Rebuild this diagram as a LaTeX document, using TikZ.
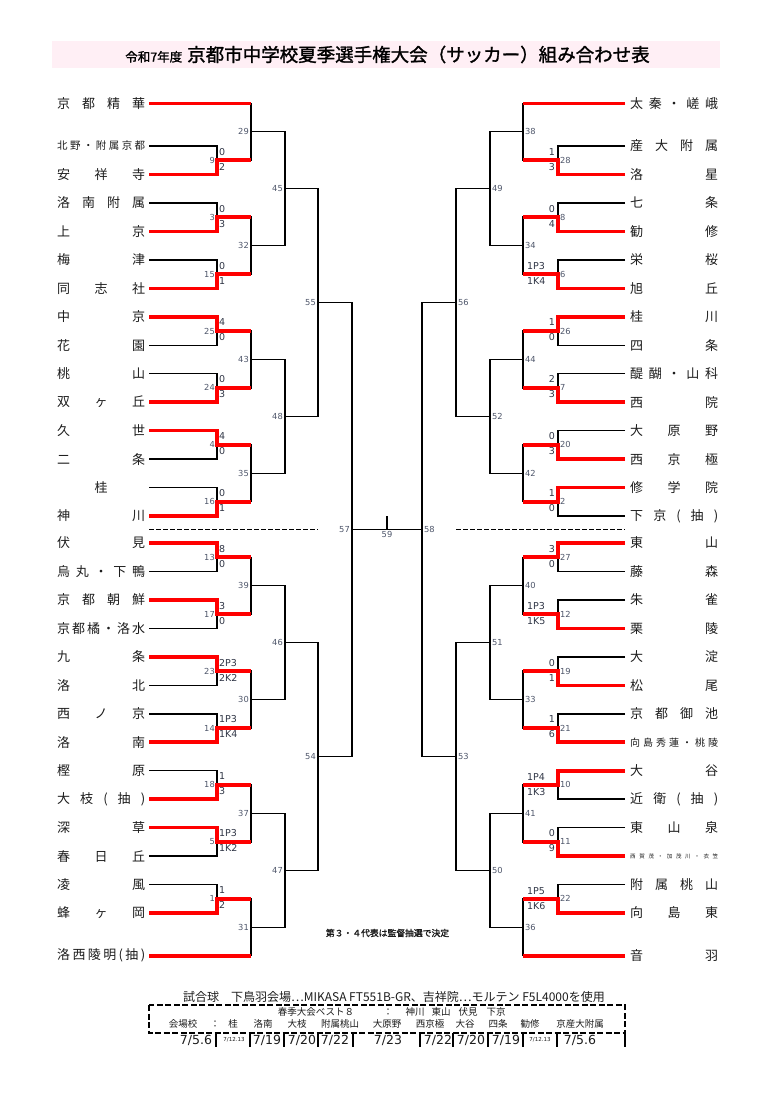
\documentclass[tikz,border=0pt]{standalone}
\usepackage{fontspec}
\setmainfont{Noto Sans CJK JP}
\newfontfamily\numfont{DejaVu Sans}
\newfontfamily\boldcjk{Noto Sans CJK JP}[FakeBold=1.5]
\usetikzlibrary{calc}
\definecolor{titlepink}{RGB}{255,239,245}
\definecolor{scoregray}{RGB}{48,54,70}
\definecolor{nogray}{RGB}{78,86,106}
\definecolor{namegray}{RGB}{28,28,28}
\tikzset{
  bline/.style={line width=1.4pt, black},
  rline/.style={line width=3.6pt, red},
  team/.style={anchor=west, inner sep=0pt, font=\fontsize{13}{13}\selectfont, text=namegray},
  score/.style={inner sep=0pt, font=\numfont\fontsize{9.5}{10}\selectfont, text=scoregray},
  mno/.style={inner sep=0pt, font=\numfont\fontsize{8.3}{9}\selectfont, text=nogray},
  sepline/.style={line width=1.8pt, dash pattern=on 5pt off 2pt},
  boxdash/.style={line width=1.5pt, dash pattern=on 6pt off 2.5pt},
  foot/.style={inner sep=0pt, font=\fontsize{12}{12}\selectfont, text=namegray},
  venue/.style={inner sep=0pt, font=\fontsize{9.5}{10}\selectfont, text=namegray},
  datebig/.style={inner sep=0pt, font=\numfont\fontsize{12.5}{13}\selectfont, text=namegray},
  datesmall/.style={inner sep=0pt, font=\numfont\fontsize{5.5}{6}\selectfont, text=namegray},
}
\newcommand\spread[1]{\makebox[88pt][s]{#1}}
% one bracket: upper, lower, junction name, x of the vertical
\newcommand\bout[4]{%
  \path let \p1=(#1), \p2=(#2) in coordinate (#3) at (#4pt,{0.5*(\y1+\y2)});
  \draw[bline] (#1) -| (#3) |- (#2);}

\begin{document}
\begin{tikzpicture}[x=1pt,y=-1pt]
\useasboundingbox (0,0) rectangle (768,1093);

% title
\fill[titlepink] (52,41) rectangle (720,68);
\node[inner sep=0pt, text=black] (title) at (387.5,54.5) {{\boldcjk\fontsize{12.5}{13}\selectfont 令和7年度}\hspace{5pt}{\boldcjk\fontsize{18.5}{19}\selectfont 京都市中学校夏季選手権大会（サッカー）組み合わせ表}};

% teams, left
\foreach \i/\yy/\t in {1/103.3/{京 都 精 華}, 2/146.0/{\fontsize{10.5}{11}\selectfont 北 野 ・ 附 属 京 都}, 3/174.5/{安 祥 寺}, 4/202.9/{洛 南 附 属}, 5/231.4/{上 京}, 6/259.8/{梅 津}, 7/288.3/{同 志 社}, 8/316.8/{中 京}, 9/345.2/{花 園}, 10/373.7/{桃 山}, 11/402.1/{双 ヶ 丘}, 12/430.6/{久 世}, 13/459.1/{二 条}, 14/487.5/{\hfil 桂\hfil}, 15/516.0/{神 川}, 16/543.0/{伏 見}, 17/571.5/{烏 丸 ・ 下 鴨}, 18/599.9/{京 都 朝 鮮}, 19/628.4/{京 都 橘 ・ 洛 水}, 20/656.8/{九 条}, 21/685.3/{洛 北}, 22/713.8/{西 ノ 京}, 23/742.2/{洛 南}, 24/770.7/{樫 原}, 25/799.1/{大 枝 ( 抽 )}, 26/827.6/{深 草}, 27/856.1/{春 日 丘}, 28/884.5/{凌 風}, 29/913.0/{蜂 ヶ 岡}, 30/955.7/{洛 西 陵 明 ( 抽 )}} {
  \node[team] (L\i) at (57,\yy) {\spread{\t}};
  \coordinate (a\i) at ([xshift=4]L\i.east);
}

% teams, right
\foreach \i/\yy/\t in {1/103.3/{太 秦 ・ 嵯 峨}, 2/146.0/{産 大 附 属}, 3/174.5/{洛 星}, 4/202.9/{七 条}, 5/231.4/{勧 修}, 6/259.8/{栄 桜}, 7/288.3/{旭 丘}, 8/316.8/{桂 川}, 9/345.2/{四 条}, 10/373.7/{醍 醐 ・ 山 科}, 11/402.1/{西 院}, 12/430.6/{大 原 野}, 13/459.1/{西 京 極}, 14/487.5/{修 学 院}, 15/516.0/{下 京 ( 抽 )}, 16/543.0/{東 山}, 17/571.5/{藤 森}, 18/599.9/{朱 雀}, 19/628.4/{栗 陵}, 20/656.8/{大 淀}, 21/685.3/{松 尾}, 22/713.8/{京 都 御 池}, 23/742.2/{\fontsize{10}{10}\selectfont 向 島 秀 蓮 ・ 桃 陵}, 24/770.7/{大 谷}, 25/799.1/{近 衛 ( 抽 )}, 26/827.6/{東 山 泉}, 27/856.1/{\fontsize{5.5}{6}\selectfont 西 賀 茂 ・ 加 茂 川 ・ 衣 笠}, 28/884.5/{附 属 桃 山}, 29/913.0/{向 島 東}, 30/955.7/{音 羽}} {
  \node[team] (R\i) at (630,\yy) {\spread{\t}};
  \coordinate (b\i) at ([xshift=-5]R\i.west);
}

% left brackets
\foreach \u/\v/\j in {a2/a3/m9, a4/a5/m3, a6/a7/m15, a8/a9/m25, a10/a11/m24, a12/a13/m4, a14/a15/m16, a16/a17/m13, a18/a19/m17, a20/a21/m23, a22/a23/m14, a24/a25/m18, a26/a27/m5, a28/a29/m1}
  {\bout{\u}{\v}{\j}{217}}
\foreach \u/\v/\j in {a1/m9/m29, m3/m15/m32, m25/m24/m43, m4/m16/m35, m13/m17/m39, m23/m14/m30, m18/m5/m37, m1/a30/m31}
  {\bout{\u}{\v}{\j}{251}}
\foreach \u/\v/\j in {m29/m32/m45, m43/m35/m48, m39/m30/m46, m37/m31/m47}
  {\bout{\u}{\v}{\j}{285}}
\bout{m45}{m48}{m55}{318}
\bout{m46}{m47}{m54}{318}
\bout{m55}{m54}{m57}{352}

% right brackets
\foreach \u/\v/\j in {b2/b3/m28, b4/b5/m8, b6/b7/m6, b8/b9/m26, b10/b11/m7, b12/b13/m20, b14/b15/m2, b16/b17/m27, b18/b19/m12, b20/b21/m19, b22/b23/m21, b24/b25/m10, b26/b27/m11, b28/b29/m22}
  {\bout{\u}{\v}{\j}{558}}
\foreach \u/\v/\j in {b1/m28/m38, m8/m6/m34, m26/m7/m44, m20/m2/m42, m27/m12/m40, m19/m21/m33, m10/m11/m41, m22/b30/m36}
  {\bout{\u}{\v}{\j}{523}}
\foreach \u/\v/\j in {m38/m34/m49, m44/m42/m52, m40/m33/m51, m41/m36/m50}
  {\bout{\u}{\v}{\j}{490}}
\bout{m49}{m52}{m56}{456}
\bout{m51}{m50}{m53}{456}
\bout{m56}{m53}{m58}{422}

% final
\draw[bline] (m57) -- (m58);
\coordinate (m59) at ($(m57)!.5!(m58)$);
\draw[bline] (m59) -- ++(0,-14);
\node[mno, anchor=north] at ([yshift=-2]m59) {59};

% halves
\draw[sepline] (a15 |- m57) -- (m55 |- m57);
\draw[sepline] (m56 |- m58) -- (b15 |- m58);

% winners
\foreach \w/\j in {a3/m9, a5/m3, a7/m15, a8/m25, a11/m24, a12/m4, a15/m16, a16/m13, a18/m17, a20/m23, a23/m14, a25/m18, a26/m5, a29/m1}
  \draw[rline] (\w) -| (\j) -- ++(34,0);
\draw[rline] (a1) -- (a1 -| m29);
\draw[rline] (a30) -- (a30 -| m31);
\foreach \w/\j in {b3/m28, b5/m8, b7/m6, b8/m26, b11/m7, b13/m20, b14/m2, b16/m27, b19/m12, b21/m19, b23/m21, b24/m10, b27/m11, b29/m22}
  \draw[rline] (\w) -| (\j) -- ++(-35,0);
\draw[rline] (b1) -- (b1 -| m38);
\draw[rline] (b30) -- (b30 -| m36);

% scores and match numbers, left
\foreach \m/\s/\t in {9/0/2, 3/0/3, 15/0/1, 25/4/0, 24/0/3, 4/4/0, 16/0/1, 13/8/0, 17/3/0, 23/2P3/2K2, 14/1P3/1K4, 18/1/3, 5/1P3/1K2, 1/1/2} {
  \node[score, anchor=west] at ([shift={(2,-8.5)}]m\m) {\s};
  \node[score, anchor=west] at ([shift={(2,6.5)}]m\m) {\t};
  \node[mno, anchor=east] at ([xshift=-2]m\m) {\m};
}
\foreach \m in {29,32,43,35,39,30,37,31,45,48,46,47,55,54,57}
  \node[mno, anchor=east] at ([xshift=-2]m\m) {\m};

% scores and match numbers, right
\foreach \m/\s/\t in {28/1/3, 8/0/4, 26/1/0, 7/2/3, 20/0/3, 2/1/0, 27/3/0, 19/0/1, 21/1/6, 11/0/9} {
  \node[score, anchor=east] at ([shift={(-3,-8.5)}]m\m) {\s};
  \node[score, anchor=east] at ([shift={(-3,6.5)}]m\m) {\t};
}
\foreach \m/\s/\t in {6/1P3/1K4, 12/1P3/1K5, 10/1P4/1K3, 22/1P5/1K6} {
  \node[score, anchor=west] at ([shift={(-31,-8)}]m\m) {\s};
  \node[score, anchor=west] at ([shift={(-31,7)}]m\m) {\t};
}
\foreach \m in {28,8,6,26,7,20,2,27,12,19,21,10,11,22,38,34,44,42,40,33,41,36,49,52,51,50,56,53,58}
  \node[mno, anchor=west] at ([xshift=2]m\m) {\m};

% note
\node[inner sep=0pt, text=namegray, font=\boldcjk\fontsize{8.8}{9}\selectfont] (note) at (387.5,933) {第３・４代表は監督抽選で決定};

% footer
\node[foot] (ball) at (394,997) {試合球　下鳥羽会場…MIKASA FT551B-GR、吉祥院…モルテン F5L4000を使用};
\draw[boxdash] (149,1005) rectangle (625,1033);
\foreach \xx/\t in {316/春季大会ベスト８, 388/：, 415/神川, 441/東山, 468/伏見, 496/下京}
  \node[venue] at (\xx,1012) {\t};
\foreach \xx/\t in {183/会場校, 215/：, 233/桂, 263/洛南, 297/大枝, 340/附属桃山, 387/大原野, 430/西京極, 465/大谷, 498/四条, 530/勧修, 580/京産大附属}
  \node[venue] at (\xx,1024) {\t};
\foreach \xx in {216,250,284,318,353,420,453,488,523,557,625}
  \draw[line width=1.6pt] (\xx,1033) -- (\xx,1047);
\node[datebig] (d1) at (196,1040) {7/5.6};
\node[datesmall] (d2) at (234,1040) {7/12.13};
\node[datebig] (d3) at (267,1040) {7/19};
\node[datebig] (d4) at (302,1040) {7/20};
\node[datebig] (d5) at (335,1040) {7/22};
\node[datebig] (d6) at (388,1040) {7/23};
\node[datebig] (d7) at (438,1040) {7/22};
\node[datebig] (d8) at (471,1040) {7/20};
\node[datebig] (d9) at (506,1040) {7/19};
\node[datesmall] (d10) at (540,1040) {7/12.13};
\node[datebig] (d11) at (580,1040) {7/5.6};
\end{tikzpicture}
\end{document}
